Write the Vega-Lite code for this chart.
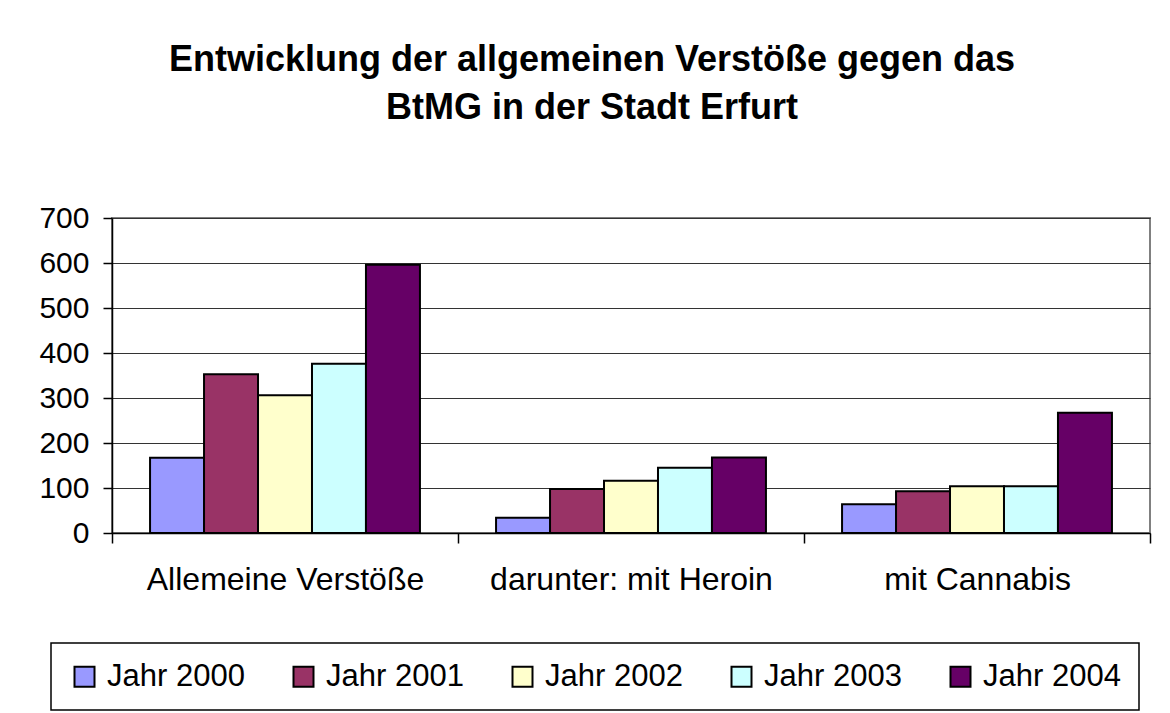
{
  "$schema": "https://vega.github.io/schema/vega-lite/v6.json",
  "width": 1038,
  "height": 315,
  "autosize": {"type": "none"},
  "padding": {"left": 112, "top": 218, "right": 20, "bottom": 180},
  "background": "white",
  "title": {
    "text": ["Entwicklung der allgemeinen Verstöße gegen das", "BtMG in der Stadt Erfurt"],
    "fontSize": 36,
    "font": "Liberation Sans",
    "fontWeight": "bold",
    "color": "black",
    "anchor": "middle",
    "lineHeight": 48,
    "offset": 76,
    "dx": -39
  },
  "data": {
    "values": [
      {"kategorie": "Allemeine Verstöße", "jahr": "Jahr 2000", "wert": 167},
      {"kategorie": "Allemeine Verstöße", "jahr": "Jahr 2001", "wert": 353},
      {"kategorie": "Allemeine Verstöße", "jahr": "Jahr 2002", "wert": 306},
      {"kategorie": "Allemeine Verstöße", "jahr": "Jahr 2003", "wert": 376},
      {"kategorie": "Allemeine Verstöße", "jahr": "Jahr 2004", "wert": 596},
      {"kategorie": "darunter: mit Heroin", "jahr": "Jahr 2000", "wert": 34},
      {"kategorie": "darunter: mit Heroin", "jahr": "Jahr 2001", "wert": 98},
      {"kategorie": "darunter: mit Heroin", "jahr": "Jahr 2002", "wert": 116},
      {"kategorie": "darunter: mit Heroin", "jahr": "Jahr 2003", "wert": 145},
      {"kategorie": "darunter: mit Heroin", "jahr": "Jahr 2004", "wert": 168},
      {"kategorie": "mit Cannabis", "jahr": "Jahr 2000", "wert": 64},
      {"kategorie": "mit Cannabis", "jahr": "Jahr 2001", "wert": 93},
      {"kategorie": "mit Cannabis", "jahr": "Jahr 2002", "wert": 104},
      {"kategorie": "mit Cannabis", "jahr": "Jahr 2003", "wert": 104},
      {"kategorie": "mit Cannabis", "jahr": "Jahr 2004", "wert": 267}
    ]
  },
  "mark": {"type": "bar", "stroke": "black", "strokeWidth": 2},
  "encoding": {
    "x": {
      "field": "kategorie",
      "type": "nominal",
      "sort": null,
      "scale": {"paddingInner": 0, "paddingOuter": 0},
      "axis": {
        "title": null,
        "labelAngle": 0,
        "tickBand": "extent",
        "labelFontSize": 32,
        "labelFont": "Liberation Sans",
        "labelColor": "black",
        "labelPadding": 21,
        "tickSize": 10,
        "tickColor": "black",
        "tickWidth": 1.5,
        "domainColor": "black",
        "domainWidth": 1.5,
        "grid": false,
        "labelLimit": 400
      }
    },
    "xOffset": {
      "field": "jahr",
      "type": "nominal",
      "scale": {"paddingInner": 0, "paddingOuter": 0.705}
    },
    "y": {
      "field": "wert",
      "type": "quantitative",
      "scale": {"domain": [0, 700], "nice": false},
      "axis": {
        "title": null,
        "values": [0, 100, 200, 300, 400, 500, 600, 700],
        "labelFontSize": 30,
        "labelFont": "Liberation Sans",
        "labelColor": "black",
        "labelPadding": 14,
        "tickSize": 9,
        "tickColor": "black",
        "tickWidth": 1.5,
        "domainColor": "black",
        "domainWidth": 1.5,
        "grid": true,
        "gridColor": "#333333",
        "gridWidth": 1
      }
    },
    "color": {
      "field": "jahr",
      "type": "nominal",
      "scale": {
        "domain": ["Jahr 2000", "Jahr 2001", "Jahr 2002", "Jahr 2003", "Jahr 2004"],
        "range": ["#9999FF", "#993366", "#FFFFCC", "#CCFFFF", "#660066"]
      },
      "legend": {
        "title": null,
        "orient": "none",
        "legendX": -61,
        "legendY": 425,
        "direction": "horizontal",
        "columns": 5,
        "columnPadding": 43,
        "symbolType": "square",
        "symbolSize": 400,
        "symbolStrokeColor": "black",
        "symbolStrokeWidth": 2,
        "symbolOpacity": 1,
        "labelFontSize": 31,
        "labelFont": "Liberation Sans",
        "labelColor": "black",
        "labelOffset": 7,
        "labelLimit": 300,
        "padding": 18,
        "strokeColor": "black",
        "fillColor": "white",
        "cornerRadius": 0
      }
    }
  },
  "config": {
    "view": {"stroke": "#808080", "strokeWidth": 2},
    "legend": {"strokeWidth": 1.5}
  }
}
